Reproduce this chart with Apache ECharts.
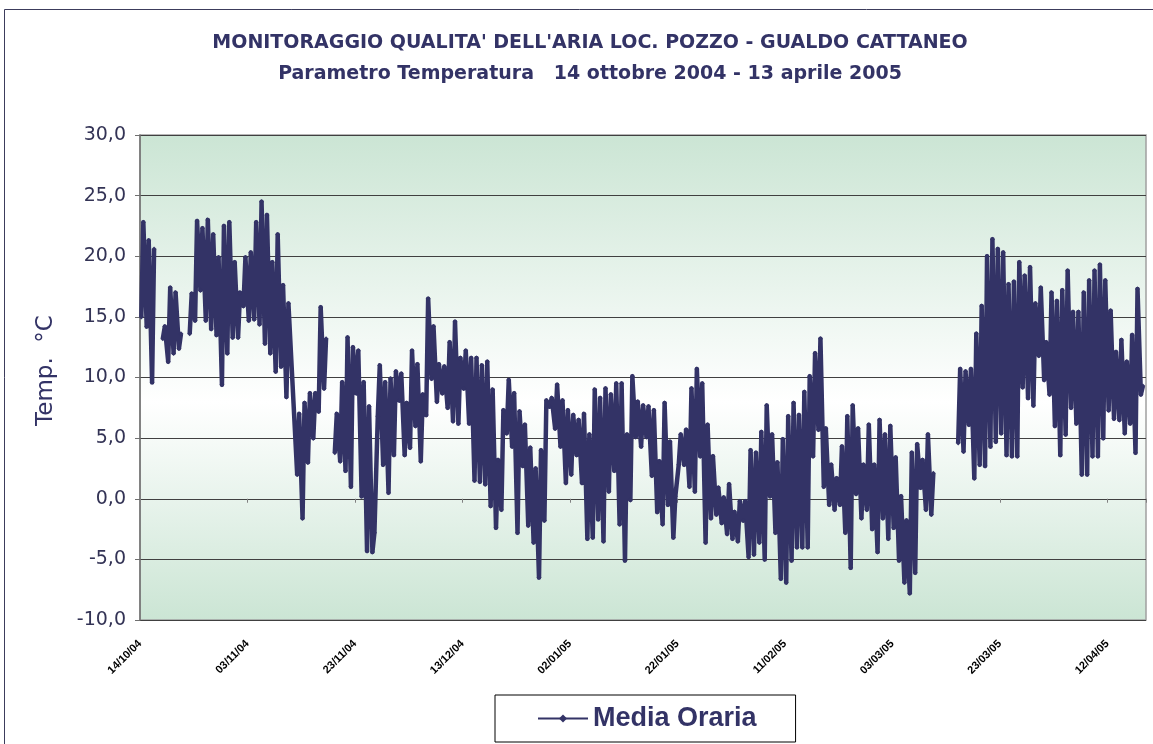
<!DOCTYPE html>
<html>
<head>
<meta charset="utf-8">
<script src="https://cdn.jsdelivr.net/npm/echarts@6/dist/echarts.min.js"></script>
<style>
html,body{margin:0;padding:0;background:#fff;}
#chart{width:1153px;height:744px;}
</style>
</head>
<body>
<div id="chart"></div>
<script>
// Days since 14/10/2004, with daily minimum and maximum of the hourly means (°C); null = missing data
const dayIndex = [0,1,2,3,4,5,6,7,8,9,10,11,12,13,14,15,16,17,18,19,20,21,22,23,24,25,26,27,29,30,
  31,32,33,34,35,36,37,38,39,40,41,42,43,44,45,46,47,48,49,50,51,52,53,54,55,56,57,58,59,60,
  61,62,63,64,65,66,67,68,69,70,71,72,73,74,75,76,77,78,79,80,81,82,83,84,85,86,87,88,89,90,
  91,92,93,94,95,96,97,98,99,100,101,102,103,104,105,106,107,108,109,110,111,112,113,114,115,116,117,118,119,120,
  121,122,123,124,125,126,127,128,129,130,131,132,133,134,135,136,137,138,139,140,141,142,143,144,145,146,147,148,
  152,153,154,155,156,157,158,159,160,161,162,163,164,165,166,167,168,169,170,171,172,173,174,175,176,177,178,179,180,
  181,182,183,184,185,186];
const dailyMin = [15.0,14.2,9.6,null,13.2,11.3,12.0,12.4,null,13.6,14.7,17.2,14.7,14.0,13.5,9.4,12.0,13.3,13.3,15.9,14.7,14.8,14.4,12.8,12.0,10.5,10.9,8.4,2.0,-1.6,
  3.0,5.0,7.2,9.1,null,3.8,3.1,2.3,1.0,8.7,0.2,-4.3,-4.4,6.8,2.8,0.5,3.6,8.1,3.6,4.2,6.0,3.1,6.9,9.9,8.0,8.7,7.5,6.4,6.2,9.1,
  6.2,1.5,1.4,1.2,-0.6,-2.4,-0.9,5.4,4.3,-2.8,2.7,-2.2,-3.6,-6.5,-1.8,7.6,5.8,4.3,1.3,2.0,3.6,1.3,-3.3,-3.2,-1.7,-3.5,0.6,2.3,-2.1,-5.1,
  -0.1,5.1,4.3,5.1,1.9,-1.1,-2.1,-0.5,-3.2,2.8,2.8,1.0,0.6,3.5,-3.6,-1.6,-1.3,-2.0,-2.9,-3.3,-3.5,-1.8,-4.8,-4.6,-3.6,-5.0,0.2,-2.8,-6.6,-6.9,
  -5.1,-4.0,-4.0,-4.0,3.5,5.7,1.0,-0.5,-0.9,-0.5,-2.8,-5.7,0.4,-1.6,-0.9,-2.5,-4.4,-1.6,-3.3,-2.4,-5.1,-6.9,-7.8,-6.1,0.9,-0.9,-1.3,null,
  4.6,3.9,6.1,1.7,2.8,2.7,4.3,4.7,5.4,3.6,3.5,3.5,9.2,8.3,7.7,11.8,9.8,8.6,6.0,3.6,5.3,7.5,6.2,2.0,2.0,3.5,3.5,5.0,7.3,
  6.6,6.5,5.4,6.2,3.8,8.6];
const dailyMax = [22.8,21.3,20.6,null,14.2,17.4,17.0,13.6,null,16.9,22.9,22.3,23.0,21.8,19.9,22.5,22.8,19.5,17.0,19.9,20.3,22.8,24.5,23.4,19.5,21.8,17.6,16.1,7.0,7.9,
  8.7,8.7,15.8,13.2,null,7.0,9.6,13.3,12.5,12.2,9.6,7.6,-2.8,11.0,9.6,9.9,10.5,10.3,7.9,12.2,11.1,8.6,16.5,14.2,11.1,10.9,12.9,14.6,11.6,12.2,
  11.6,11.6,11.0,11.3,9.0,3.2,7.3,9.8,8.7,7.2,6.1,4.2,2.5,4.0,8.1,8.3,9.4,8.1,7.3,6.9,6.5,7.0,5.3,9.0,8.3,9.1,8.6,9.5,9.5,5.3,
  10.1,8.0,7.7,7.6,7.3,3.1,7.9,4.7,0.2,5.3,5.7,9.1,10.7,9.5,6.1,3.5,0.9,0.1,1.2,-1.1,-0.2,-0.2,4.0,3.8,5.5,7.7,5.3,3.0,4.9,6.8,
  7.9,6.9,8.8,10.1,12.0,13.2,5.8,2.8,1.7,4.3,6.8,7.7,5.8,2.8,6.1,2.8,6.5,5.3,6.0,3.4,0.2,-1.8,3.8,4.5,3.2,5.3,2.1,null,
  10.7,10.5,10.7,13.6,15.9,20.0,21.4,20.6,20.3,17.7,17.9,19.5,18.4,19.1,16.1,17.4,12.9,17.0,16.3,17.2,18.8,15.4,15.4,17.0,18.0,18.8,19.3,18.0,15.5,
  12.1,13.1,11.3,13.5,17.3,9.3];
const tickLabels = ['14/10/04','03/11/04','23/11/04','13/12/04','02/01/05','22/01/05','11/02/05','03/03/05','23/03/05','12/04/05'];
const yTicks = [-10, -5, 0, 5, 10, 15, 20, 25, 30];
const titleLines = ["MONITORAGGIO QUALITA' DELL'ARIA LOC. POZZO - GUALDO CATTANEO", "Parametro Temperatura   14 ottobre 2004 - 13 aprile 2005"];
const seriesName = 'Media Oraria';
const axisName = 'Temp.  \u00B0C';

// build the hourly-mean polyline: minimum in the early morning, maximum in the afternoon
const lineData = [];
for (let i = 0; i < dayIndex.length; i++) {
  if (dailyMin[i] === null) { lineData.push([dayIndex[i] + 0.5, '-']); continue; }
  lineData.push([dayIndex[i] + 0.25, dailyMin[i]]);
  lineData.push([dayIndex[i] + 0.62, dailyMax[i]]);
}

const navy = '#333366';
const wide = 'DejaVu Sans';
const chart = echarts.init(document.getElementById('chart'), null, {renderer: 'canvas'});
const xMin = 0, xMax = 187.2, xStep = 20;
chart.setOption({
  animation: false,
  backgroundColor: '#ffffff',
  graphic: [{
    type: 'rect', silent: true,
    shape: {x: 4.5, y: 9.5, width: 1300, height: 900},
    style: {fill: 'none', stroke: '#3c3c5c', lineWidth: 1}
  }],
  title: {
    text: titleLines.join('\n'),
    left: 585, top: 23, textAlign: 'center',
    textStyle: {fontFamily: wide, fontSize: 19, fontWeight: 'bold', color: navy, lineHeight: 31}
  },
  legend: {
    data: [seriesName],
    left: 495, top: 695,
    borderColor: '#000', borderWidth: 1,
    padding: [10, 39, 10, 42],
    itemWidth: 50, itemHeight: 10,
    textStyle: {fontFamily: 'Liberation Sans', fontSize: 27, fontWeight: 'bold', color: navy}
  },
  grid: {
    left: 140, right: 7, top: 135, bottom: 124,
    show: true,
    borderColor: '#a0a0a0', borderWidth: 1.5,
    backgroundColor: {
      type: 'linear', x: 0, y: 0, x2: 0, y2: 1,
      colorStops: [
        {offset: 0, color: '#cbe5d4'},
        {offset: 0.55, color: '#ffffff'},
        {offset: 1, color: '#cbe5d4'}
      ]
    }
  },
  xAxis: [{
    type: 'value', min: xMin, max: xMax, interval: xStep,
    axisLine: {show: false, onZero: false},
    axisTick: {show: false},
    splitLine: {show: false},
    axisLabel: {
      rotate: 45, margin: 22, showMaxLabel: false,
      fontFamily: 'Liberation Sans', fontSize: 11, fontWeight: 'bold', color: '#000',
      formatter: v => (Math.abs(v % xStep) < 1e-6 ? tickLabels[Math.round(v / xStep)] || '' : '')
    }
  }, {
    type: 'value', min: xMin, max: xMax, interval: xStep, position: 'bottom',
    axisLine: {show: true, onZero: true, lineStyle: {color: '#404040', width: 1}},
    axisTick: {show: true, length: 4, lineStyle: {color: '#808080'}},
    axisLabel: {show: false},
    splitLine: {show: false}
  }],
  yAxis: {
    type: 'value', min: yTicks[0], max: yTicks[yTicks.length - 1], interval: 5,
    name: axisName, nameLocation: 'middle', nameGap: 82, nameRotate: 90,
    nameTextStyle: {fontFamily: wide, fontSize: 23, color: navy, padding: [0, 0, 0, 14]},
    axisLine: {show: true, lineStyle: {color: '#707070', width: 1.5}},
    axisTick: {show: true, length: 5, lineStyle: {color: '#707070'}},
    axisLabel: {
      margin: 14, fontFamily: wide, fontSize: 19, color: '#333355',
      formatter: v => v.toFixed(1).replace('.', ',')
    },
    splitLine: {show: true, lineStyle: {color: '#404040', width: 1}}
  },
  series: [{
    name: seriesName, type: 'line', xAxisIndex: 0,
    data: lineData,
    connectNulls: false,
    symbol: 'diamond', symbolSize: 5, showAllSymbol: true,
    lineStyle: {color: navy, width: 4.5, join: 'round'},
    itemStyle: {color: navy},
    z: 5
  }]
});
</script>
</body>
</html>
